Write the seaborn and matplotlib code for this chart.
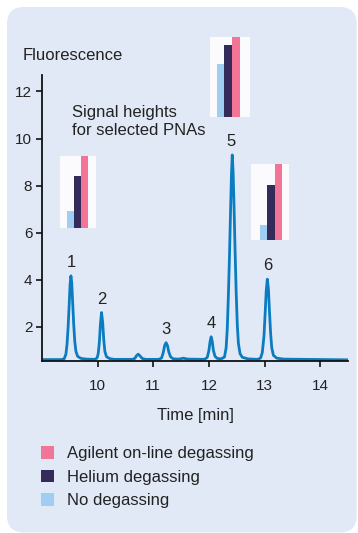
import numpy as np
import pandas as pd
import matplotlib.pyplot as plt
import seaborn as sns
from matplotlib.patches import FancyBboxPatch, Patch

# Chromatogram trace (time in min, fluorescence)
trace_time = [
    9.00, 9.35, 9.40, 9.43, 9.45, 9.47, 9.49, 9.505, 9.52, 9.535, 9.55, 9.57, 9.59, 9.61, 9.64, 9.70, 9.80,
    9.95, 9.99, 10.01, 10.03, 10.05, 10.07, 10.09, 10.11, 10.13, 10.16, 10.22, 10.30,
    10.62, 10.67, 10.70, 10.73, 10.76, 10.80, 10.86,
    11.10, 11.15, 11.18, 11.205, 11.23, 11.255, 11.28, 11.31, 11.36,
    11.46, 11.54, 11.62,
    11.92, 11.97, 12.00, 12.02, 12.04, 12.06, 12.08, 12.11, 12.15,
    12.22, 12.28, 12.31, 12.33, 12.35, 12.37, 12.39, 12.405, 12.42, 12.435, 12.45, 12.47, 12.49, 12.51,
    12.53, 12.56, 12.60, 12.70,
    12.88, 12.93, 12.96, 12.99, 13.01, 13.03, 13.05, 13.07, 13.09, 13.11, 13.13, 13.16, 13.22, 13.35,
    14.50,
]
trace_signal = [
    0.60, 0.60, 0.64, 0.83, 1.25, 2.00, 3.00, 3.80, 4.16, 3.85, 3.10, 2.10, 1.35, 0.95, 0.74, 0.65, 0.62,
    0.61, 0.67, 0.85, 1.30, 2.10, 2.60, 2.20, 1.45, 0.95, 0.72, 0.64, 0.61,
    0.61, 0.65, 0.77, 0.83, 0.76, 0.65, 0.61,
    0.61, 0.67, 0.90, 1.20, 1.32, 1.20, 0.92, 0.72, 0.63,
    0.62, 0.66, 0.62,
    0.61, 0.69, 0.98, 1.35, 1.57, 1.38, 1.00, 0.74, 0.65,
    0.63, 0.71, 1.10, 1.90, 3.30, 5.00, 7.00, 8.40, 9.30, 8.60, 7.30, 5.30, 3.50, 2.10,
    1.30, 0.85, 0.70, 0.63,
    0.61, 0.67, 0.90, 1.60, 2.50, 3.50, 4.02, 3.60, 2.60, 1.70, 1.10, 0.78, 0.66, 0.62,
    0.59,
]

# Peak labels
peak_names = ["1", "2", "3", "4", "5", "6"]
peak_times = [9.52, 10.07, 11.23, 12.04, 12.40, 13.05]
peak_heights = [4.16, 2.60, 1.32, 1.57, 9.30, 4.02]

# Relative signal heights (% of on-line degassing) for selected PNAs
conditions = ["No degassing", "Helium degassing", "Agilent on-line degassing"]
inset_peak1 = [23, 72, 100]
inset_peak5 = [66, 90, 100]
inset_peak6 = [20, 73, 100]

cond_colors = {"No degassing": "#A2CDF3",
               "Helium degassing": "#352B5B",
               "Agilent on-line degassing": "#F27496"}

sns.set_theme(style="ticks")
plt.rcParams['font.family'] = ['Liberation Sans', 'DejaVu Sans']
text_color = "#222222"

fig = plt.figure(figsize=(3.58, 5.33), dpi=100)
fig.patch.set_facecolor("white")

# light blue rounded panel behind everything
panel = FancyBboxPatch((0.07, 0.005), 3.497, 5.255,
                       boxstyle="round,pad=0,rounding_size=0.17",
                       transform=fig.dpi_scale_trans,
                       fc="#E2E9F6", ec="none", zorder=-5)
fig.add_artist(panel)

# main chromatogram
ax = fig.add_axes([0.1173, 0.3218, 0.8547, 0.5375])
ax.set_facecolor("none")
sns.lineplot(x=trace_time, y=trace_signal, ax=ax, color="#0A7CC1",
             lw=2.0, estimator=None)
ax.set_xlim(9.0, 14.5)
ax.set_ylim(0.52, 12.7)
ax.set_xticks([10, 11, 12, 13, 14])
ax.set_yticks([2, 4, 6, 8, 10, 12])
sns.despine(ax=ax)
for s in ["left", "bottom"]:
    ax.spines[s].set_linewidth(1.3)
    ax.spines[s].set_color("#111111")
ax.tick_params(axis="both", length=4, width=1.2, labelsize=11,
               colors="#111111", labelcolor=text_color)
ax.tick_params(axis="y", pad=3)
ax.tick_params(axis="x", pad=8.5)
ax.set_xlabel("Time [min]", fontsize=12, color=text_color, labelpad=11)
ax.set_ylabel("")

for name, t, h in zip(peak_names, peak_times, peak_heights):
    ax.annotate(name, xy=(t, h), xytext=(0, 9.5), textcoords="offset points",
                ha="center", va="center", fontsize=12, color=text_color)

fig.text(0.0634, 0.8968, "Fluorescence", fontsize=12, color=text_color,
         ha="left", va="center")
fig.text(0.2003, 0.7724, "Signal heights\nfor selected PNAs", fontsize=12,
         color=text_color, ha="left", va="center", linespacing=1.3)

# small bar insets above peaks 1, 5 and 6
insets = [
    (inset_peak1, [0.1676, 0.5728, 0.1006, 0.1345], (-1.44, 3.63)),
    (inset_peak5, [0.5866, 0.7805, 0.1117, 0.1501], (-1.36, 3.79)),
    (inset_peak6, [0.7011, 0.5497, 0.1061, 0.1426], (-1.73, 3.45)),
]
for vals, rect, xl in insets:
    axi = fig.add_axes(rect)
    df = pd.DataFrame({"cond": conditions, "val": vals})
    sns.barplot(data=df, x="cond", y="val", hue="cond", palette=cond_colors,
                order=conditions, hue_order=conditions, width=1.0, dodge=False,
                saturation=1, legend=False, linewidth=0, edgecolor="none", ax=axi)
    axi.set_facecolor("#FBFBFD")
    axi.set_xlim(*xl)
    axi.set_ylim(0, 100)
    axi.set_xticks([])
    axi.set_yticks([])
    axi.set_xlabel("")
    axi.set_ylabel("")
    for s in axi.spines.values():
        s.set_visible(False)

# legend
legend_order = ["Agilent on-line degassing", "Helium degassing", "No degassing"]
handles = [Patch(facecolor=cond_colors[c], edgecolor="none", label=c) for c in legend_order]
fig.legend(handles=handles, loc="upper left", bbox_to_anchor=(0.1137, 0.163),
           frameon=False, fontsize=12, handlelength=0.8, handleheight=0.8,
           handletextpad=0.75, labelspacing=0.5, borderpad=0, borderaxespad=0,
           labelcolor=text_color)

fig.savefig("out.png", dpi=100)
